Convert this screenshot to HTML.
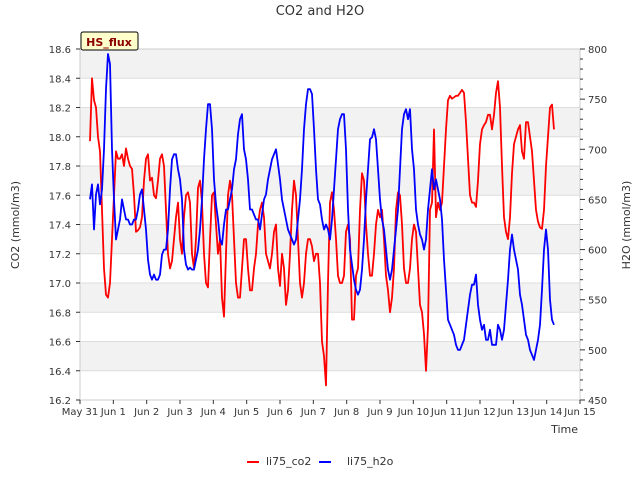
<!DOCTYPE html>
<html><head><meta charset="utf-8"><style>
body{margin:0;background:#fff;font-family:"Liberation Sans","DejaVu Sans",sans-serif}
text{font-family:"DejaVu Sans","Liberation Sans",sans-serif}
</style></head><body>
<svg id="chart" width="640" height="480" xmlns="http://www.w3.org/2000/svg">
<text x="320" y="15" text-anchor="middle" font-size="13" fill="#333">CO2 and H2O</text>
<g id="bands"></g><g id="grid"></g>
<rect x="80" y="49" width="500" height="351" fill="none" stroke="#ccc"/>
<g id="axes"></g><g id="series"></g>
<g>
<rect x="81" y="32" width="57" height="18" fill="#ffffcc" stroke="#000" rx="2"/>
<text x="109" y="46" text-anchor="middle" font-size="11" font-weight="bold" fill="#8b0000">HS_flux</text></g>
<text transform="translate(19,225) rotate(-90)" text-anchor="middle" font-size="11" fill="#333">CO2 (mmol/m3)</text>
<text transform="translate(630,225) rotate(-90)" text-anchor="middle" font-size="11" fill="#333">H2O (mmol/m3)</text>
<text x="578" y="433" text-anchor="end" font-size="11" fill="#333">Time</text>
<g>
<line x1="247" y1="462" x2="259" y2="462" stroke="#f00" stroke-width="2"/>
<text x="266" y="465" font-size="11" fill="#333">li75_co2</text>
<line x1="319" y1="462" x2="331" y2="462" stroke="#00f" stroke-width="2"/>
<text x="347" y="465" font-size="11" fill="#333">li75_h2o</text></g>
</svg>
<script>
const xTickLabels=["May 31","Jun 1","Jun 2","Jun 3","Jun 4","Jun 5","Jun 6","Jun 7","Jun 8","Jun 9","Jun 10","Jun 11","Jun 12","Jun 13","Jun 14","Jun 15"];
const co2Ticks=[16.2,16.4,16.6,16.8,17.0,17.2,17.4,17.6,17.8,18.0,18.2,18.4,18.6];
const h2oTicks=[450,500,550,600,650,700,750,800];
const startDay=0.3, stepDay=0.06;
const co2=[17.97,18.4,18.25,18.2,18.0,17.9,17.5,17.1,16.92,16.9,17.0,17.3,17.6,17.9,17.85,17.85,17.88,17.8,17.92,17.85,17.8,17.78,17.6,17.35,17.36,17.38,17.45,17.7,17.85,17.88,17.7,17.72,17.6,17.58,17.7,17.85,17.88,17.8,17.5,17.2,17.1,17.15,17.3,17.45,17.55,17.3,17.2,17.45,17.6,17.62,17.55,17.2,17.1,17.3,17.65,17.7,17.55,17.2,17.0,16.97,17.3,17.6,17.62,17.4,17.2,17.3,16.9,16.77,17.2,17.6,17.7,17.6,17.3,17.0,16.9,16.9,17.1,17.3,17.3,17.1,16.95,16.95,17.1,17.2,17.4,17.5,17.55,17.45,17.2,17.15,17.1,17.2,17.35,17.4,17.1,16.98,17.2,17.1,16.85,16.95,17.2,17.5,17.7,17.6,17.3,17.0,16.9,17.0,17.2,17.3,17.3,17.25,17.15,17.2,17.2,17.0,16.6,16.5,16.3,17.0,17.55,17.62,17.5,17.3,17.05,17.0,17.0,17.05,17.35,17.4,17.3,16.75,16.75,17.05,17.1,17.5,17.75,17.7,17.4,17.2,17.05,17.05,17.2,17.4,17.5,17.45,17.5,17.3,17.05,16.95,16.8,16.9,17.1,17.5,17.62,17.6,17.4,17.1,17.0,17.0,17.1,17.3,17.4,17.35,17.1,16.85,16.8,16.65,16.4,16.7,17.5,17.55,18.05,17.45,17.55,17.5,17.55,17.8,18.05,18.25,18.28,18.26,18.27,18.28,18.28,18.3,18.32,18.3,18.1,17.85,17.6,17.55,17.55,17.52,17.7,17.95,18.05,18.08,18.1,18.15,18.15,18.05,18.15,18.3,18.38,18.2,17.8,17.45,17.35,17.3,17.45,17.75,17.95,18.0,18.05,18.08,17.9,17.85,18.1,18.1,18.0,17.9,17.7,17.5,17.42,17.38,17.37,17.5,17.8,18.0,18.2,18.22,18.05];
const h2o=[650,665,620,655,665,645,660,700,760,795,785,700,650,610,620,630,650,640,630,630,625,625,630,630,640,655,660,640,620,590,575,570,575,570,570,575,595,600,600,620,660,690,695,695,680,670,650,600,585,580,582,580,580,590,600,620,650,690,720,745,745,720,670,645,630,610,605,625,640,640,650,660,680,690,715,730,735,700,690,670,640,640,635,630,630,620,635,650,655,670,680,690,695,700,685,670,650,640,630,620,615,610,605,610,630,650,680,720,745,760,760,755,720,680,650,645,630,620,625,620,610,630,660,690,720,730,735,735,700,640,600,585,570,560,555,560,580,610,650,680,710,712,720,710,680,650,630,620,600,580,570,580,600,620,640,680,720,735,740,730,740,700,680,640,625,615,610,600,610,640,660,680,660,670,660,650,630,590,560,530,525,520,515,505,500,500,505,510,525,540,555,565,565,575,545,530,520,525,510,510,520,505,505,505,525,520,510,520,545,570,600,615,600,590,580,555,545,530,515,510,500,495,490,500,510,525,560,600,620,600,550,530,525];
const NS="http://www.w3.org/2000/svg";
const X0=80,X1=580,Y0=400,Y1=49;
const xS=d=>X0+(d/15)*(X1-X0);
const yL=v=>Y0-(v-16.2)/2.4*(Y0-Y1);
const yR=v=>Y0-(v-450)/350*(Y0-Y1);
function mk(tag,attrs,parent){const e=document.createElementNS(NS,tag);for(const k in attrs)e.setAttribute(k,attrs[k]);document.getElementById(parent).appendChild(e);return e;}
for(let i=0;i<co2Ticks.length-1;i++){
  if(i%2===0){const r=mk('rect',{x:X0,y:yL(co2Ticks[i+1]),width:X1-X0,height:yL(co2Ticks[i])-yL(co2Ticks[i+1]),fill:(i/2)%2===0?'#fff':'#f2f2f2'},'bands');}
}
// shading: bands 18.6-18.4, 18.2-18.0, ... grey
document.getElementById('bands').innerHTML='';
for(let i=co2Ticks.length-1;i>0;i-=2){
  const r=mk('rect',{x:X0,y:yL(co2Ticks[i]),width:X1-X0,height:yL(co2Ticks[i-1])-yL(co2Ticks[i]),fill:'#f2f2f2'},'bands');
  
  
}
co2Ticks.forEach(v=>{
  const l=mk('line',{x1:X0,x2:X1,y1:yL(v),y2:yL(v),stroke:'#ddd'},'grid');
  
  
  const t=mk('text',{x:X0-9,y:yL(v)+4,'text-anchor':'end','font-size':10,fill:'#333'},'axes');
  t.textContent=v.toFixed(1);
  
  
  mk('line',{x1:X0-4,x2:X0,y1:yL(v),y2:yL(v),stroke:'#333'},'axes');
});
for(let v=450;v<=800;v+=10){mk('line',{x1:X1,x2:X1+(v%50===0?5:3),y1:yR(v),y2:yR(v),stroke:'#333'},'axes');}
h2oTicks.forEach(v=>{
  const t=mk('text',{x:X1+8,y:yR(v)+4,'font-size':10,fill:'#333'},'axes');
  t.textContent=v;
  
  
});
xTickLabels.forEach((s,i)=>{
  mk('line',{x1:xS(i),x2:xS(i),y1:Y0,y2:Y0+4,stroke:'#333'},'axes');
  const t=mk('text',{x:xS(i),y:Y0+15,'text-anchor':'middle','font-size':10,fill:'#333'},'axes');
  t.textContent=s;
  
  
});
function line(vals,yf,color,name){
  const pts=vals.map((v,i)=>xS(startDay+i*stepDay).toFixed(1)+','+yf(v).toFixed(1)).join(' ');
  const p=mk('polyline',{points:pts,fill:'none',stroke:color,'stroke-width':1.8,'stroke-linejoin':'round'},'series');
  
  
}
line(co2,yL,'#f00','co2-line');
line(h2o,yR,'#00f','h2o-line');
</script>
</body></html>
